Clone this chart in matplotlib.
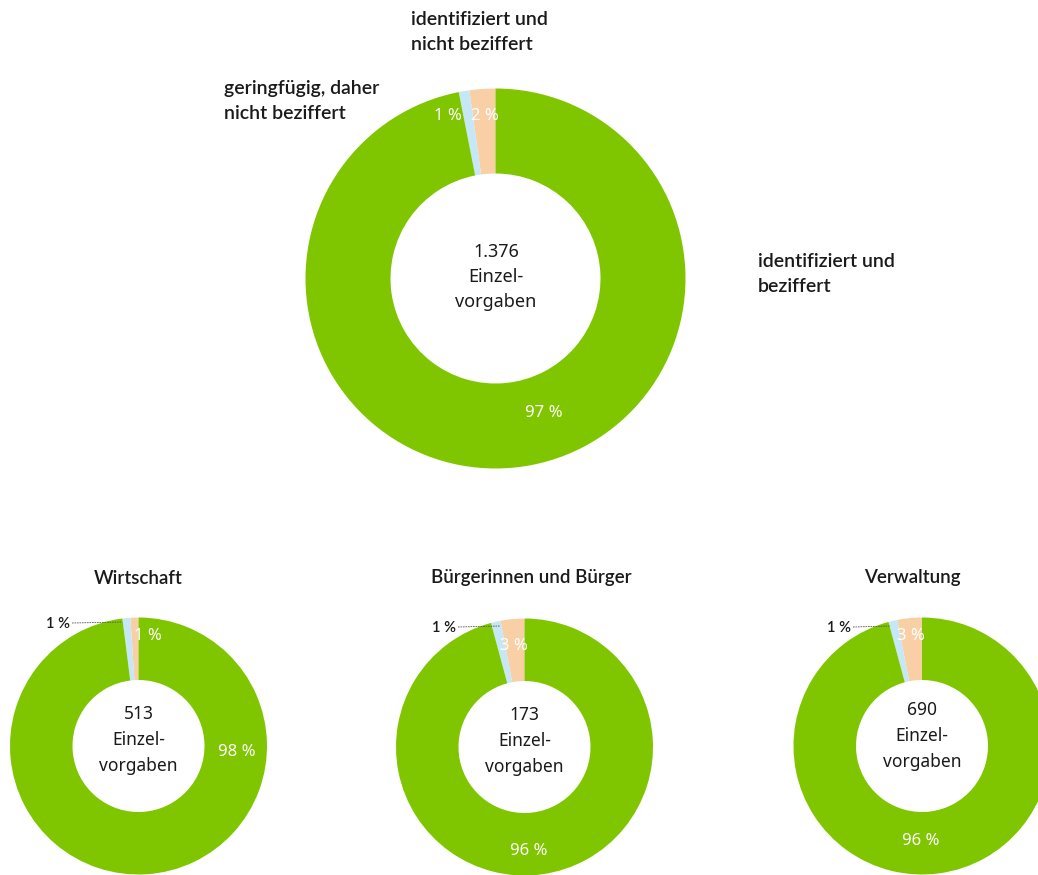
import matplotlib
matplotlib.use('Agg')
import matplotlib.pyplot as plt

plt.rcParams['font.family'] = ['Noto Sans', 'DejaVu Sans']
BOLD = dict(family=['Lato', 'DejaVu Sans'], fontweight='semibold')

W, H = 1038, 875

# ── Daten (Anteile in %) ─────────────────────────────────────────────────────
# Reihenfolge: identifiziert & nicht beziffert, geringfügig, identifiziert & beziffert
SEGMENTS   = ['identifiziert und\nnicht beziffert', 'geringfügig, daher\nnicht beziffert',
              'identifiziert und\nbeziffert']
COLORS     = ['#F9D0A6', '#C6E7F5', '#80C600']

total_vals   = [2.2, 0.9, 96.9]
total_count  = '1.376'
total_labels = ['2 %', '1 %', '97 %']

groups       = ['Wirtschaft', 'Bürgerinnen und Bürger', 'Verwaltung']
group_counts = ['513', '173', '690']
group_vals   = [[1.0, 1.0, 98.0],
                [3.0, 1.2, 95.8],
                [3.1, 1.1, 95.8]]
group_labels = [['1 %', '1 %', '98 %'],
                ['3 %', '1 %', '96 %'],
                ['3 %', '1 %', '96 %']]

# ── Layout (Pixel, y von oben) ───────────────────────────────────────────────
def Y(y):
    return H - y

fig = plt.figure(figsize=(W / 100, H / 100), dpi=100)
ax = fig.add_axes([0, 0, 1, 1])

def donut(vals, cx, cy, r_out, r_in):
    ax.pie(vals, colors=COLORS, startangle=90, counterclock=True,
           center=(cx, Y(cy)), radius=r_out,
           wedgeprops=dict(width=r_out - r_in, linewidth=0))

# großer Ring
donut(total_vals, 495.5, 278.5, 190, 105)
ax.text(496, Y(277), f'{total_count}\nEinzel-\nvorgaben', ha='center', va='center',
        fontsize=13, linespacing=1.5, color='#1a1a1a')
ax.text(485, Y(116), total_labels[0], ha='center', va='center', fontsize=12, color='white')
ax.text(448, Y(116), total_labels[1], ha='center', va='center', fontsize=12, color='white')
ax.text(544, Y(413), total_labels[2], ha='center', va='center', fontsize=12, color='white')

seg_pos = [(411, 32), (224, 101), (758, 274)]
for name, (x, y) in zip(SEGMENTS, seg_pos):
    ax.text(x, Y(y), name, ha='left', va='center', fontsize=14, linespacing=1.55,
            color='#1a1a1a', **BOLD)

# kleine Ringe
centers    = [(138.5, 746), (524.5, 747), (922, 746)]
title_x    = [138, 531, 912]
center_y   = [740, 741, 736]
orange_pos = [(148, 636), (514, 646), (911, 636)]
green_pos  = [(237, 752), (529, 851), (921, 841)]
blue_lbl   = [(70, 624, 122, 622), (456, 628, 500, 626), (851, 628, 890, 626)]

for i, g in enumerate(groups):
    cx, cy = centers[i]
    donut(group_vals[i], cx, cy, 128.5, 66)
    ax.text(title_x[i], Y(578), g, ha='center', va='center', fontsize=13.5,
            color='#1a1a1a', **BOLD)
    ax.text(cx, Y(center_y[i]), f'{group_counts[i]}\nEinzel-\nvorgaben', ha='center',
            va='center', fontsize=12.5, linespacing=1.55, color='#1a1a1a')
    ax.text(orange_pos[i][0], Y(orange_pos[i][1]), group_labels[i][0], ha='center',
            va='center', fontsize=12, color='white')
    ax.text(green_pos[i][0], Y(green_pos[i][1]), group_labels[i][2], ha='center',
            va='center', fontsize=12, color='white')
    tx, ty, lx, ly = blue_lbl[i]
    ax.text(tx, Y(ty), group_labels[i][1], ha='right', va='center', fontsize=10.5,
            color='#1a1a1a', **BOLD)
    ax.plot([tx + 2, lx], [Y(ty - 1), Y(ly)], color='#555555', lw=0.6, ls=(0, (2, 1)))

ax.set_xlim(0, W)
ax.set_ylim(0, H)
ax.set_aspect('equal')
ax.axis('off')

fig.savefig('out.png', dpi=100)
